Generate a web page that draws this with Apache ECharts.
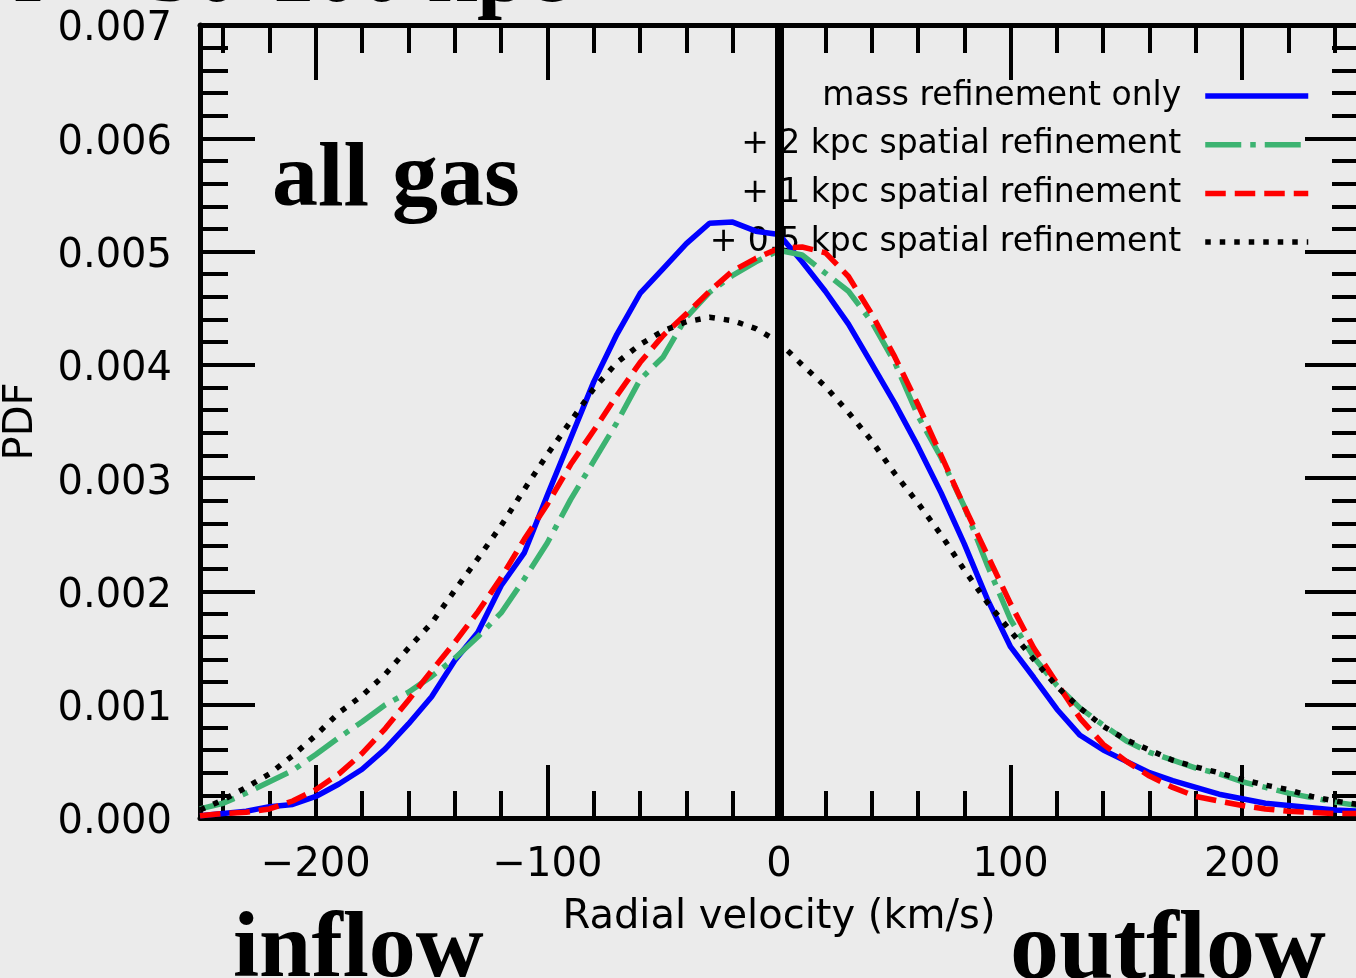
<!DOCTYPE html>
<html>
<head>
	<meta charset="utf-8">
	<title>Radial velocity PDF</title>
	<style>
		html, body {
			margin: 0;
			padding: 0;
			background: #ebebeb;
		}

		#chart {
			width: 1356px;
			height: 978px;
		}
	</style>
</head>
<body>
	<div id="chart"></div>
	<script src="https://cdn.jsdelivr.net/npm/echarts@6/dist/echarts.min.js"></script>
	<script type="text/javascript">
		// radial velocity bins (km/s)
		var velocity = [-250, -240, -230, -220, -210, -200, -190, -180, -170, -160,
			-150, -140, -130, -120, -110, -100, -90, -80, -70, -60,
			-50, -40, -30, -20, -10, 0, 10, 20, 30, 40,
			50, 60, 70, 80, 90, 100, 110, 120, 130, 140,
			150, 160, 170, 180, 190, 200, 210, 220, 230, 240, 250];

		// PDF
		var massOnly = [0.00002, 0.00004, 0.00006, 0.00010, 0.00012, 0.00019, 0.00030, 0.00043, 0.00061, 0.00083,
			0.00107, 0.00139, 0.00164, 0.00205, 0.00234, 0.00285, 0.00335, 0.00385, 0.00427, 0.00463,
			0.00485, 0.00507, 0.00525, 0.00526, 0.00518, 0.00515, 0.00491, 0.00465, 0.00436, 0.00401,
			0.00366, 0.00328, 0.00287, 0.00242, 0.00193, 0.00151, 0.00124, 0.00096, 0.00073, 0.00060,
			0.00050, 0.00040, 0.00033, 0.00027, 0.00021, 0.00017, 0.00013, 0.00011, 0.00009, 0.00007, 0.00006];
		var spatial2kpc = [0.00008, 0.00013, 0.00022, 0.00032, 0.00042, 0.00056, 0.00071, 0.00085, 0.00100, 0.00111,
			0.00125, 0.00141, 0.00160, 0.00181, 0.00211, 0.00243, 0.00281, 0.00315, 0.00349, 0.00387,
			0.00407, 0.00442, 0.00464, 0.00479, 0.00491, 0.00501, 0.00497, 0.00481, 0.00465, 0.00438,
			0.00402, 0.00355, 0.00318, 0.00275, 0.00223, 0.00175, 0.00142, 0.00117, 0.00097, 0.00082,
			0.00068, 0.00058, 0.00051, 0.00044, 0.00039, 0.00032, 0.00027, 0.00022, 0.00018, 0.00014, 0.00011];
		var spatial1kpc = [0.00002, 0.00004, 0.00005, 0.00008, 0.00015, 0.00025, 0.00039, 0.00057, 0.00079, 0.00104,
			0.00130, 0.00155, 0.00182, 0.00212, 0.00246, 0.00277, 0.00312, 0.00342, 0.00373, 0.00402,
			0.00426, 0.00445, 0.00465, 0.00483, 0.00494, 0.00503, 0.00504, 0.00499, 0.00478, 0.00445,
			0.00407, 0.00365, 0.00320, 0.00275, 0.00232, 0.00189, 0.00150, 0.00119, 0.00088, 0.00065,
			0.00050, 0.00037, 0.00027, 0.00019, 0.00015, 0.00011, 0.00008, 0.00006, 0.00005, 0.00004, 0.00004];
		var spatial05kpc = [0.00007, 0.00016, 0.00027, 0.00039, 0.00055, 0.00073, 0.00093, 0.00108, 0.00127, 0.00150,
			0.00172, 0.00201, 0.00229, 0.00258, 0.00290, 0.00321, 0.00350, 0.00379, 0.00402, 0.00418,
			0.00430, 0.00438, 0.00442, 0.00439, 0.00432, 0.00420, 0.00400, 0.00381, 0.00358, 0.00333,
			0.00304, 0.00278, 0.00250, 0.00219, 0.00190, 0.00165, 0.00140, 0.00116, 0.00097, 0.00081,
			0.00069, 0.00060, 0.00051, 0.00045, 0.00040, 0.00034, 0.00029, 0.00025, 0.00019, 0.00015, 0.00012];

		var seriesNames = ['mass refinement only', '+ 2 kpc spatial refinement',
			'+ 1 kpc spatial refinement', '+ 0.5 kpc spatial refinement'];

		// tick positions on the velocity axis
		var xMajorTicks = [-200, -100, 0, 100, 200];
		var xMinorTicks = [-240, -220, -180, -160, -140, -120, -80, -60, -40, -20,
			20, 40, 60, 80, 120, 140, 160, 180, 220, 240];

		var FONT = '"DejaVu Sans", "Noto Sans", sans-serif';
		var SERIF = '"Liberation Serif", "DejaVu Serif", serif';

		function pairs(ys) {
			var out = [];
			for (var i = 0; i < velocity.length; i++) {
				out.push([velocity[i], ys[i]]);
			}
			return out;
		}

		// one x axis per side and tick size (major / minor)
		function xAxisOpt(position, ticks, len, main) {
			return {
				type: 'value',
				position: position,
				min: -250,
				max: 250,
				axisLine: { show: main, onZero: false, lineStyle: { color: '#000', width: 5 } },
				axisTick: {
					show: true,
					inside: true,
					length: len,
					customValues: ticks,
					lineStyle: { color: '#000', width: 4 }
				},
				axisLabel: {
					show: main && position === 'bottom',
					customValues: xMajorTicks,
					margin: 28,
					color: '#000',
					fontFamily: FONT,
					fontSize: 40,
					formatter: function(v) {
						return String(v).replace('-', '\u2212');
					}
				},
				name: (main && position === 'bottom') ? 'Radial velocity (km/s)' : '',
				nameLocation: 'middle',
				nameGap: 80,
				nameTextStyle: { color: '#000', fontFamily: FONT, fontSize: 40 },
				splitLine: { show: false }
			};
		}

		function yAxisOpt(position) {
			var left = position === 'left';
			return {
				type: 'value',
				position: position,
				min: 0,
				max: 0.007,
				interval: 0.001,
				axisLine: { show: true, onZero: false, lineStyle: { color: '#000', width: 5 } },
				axisTick: {
					show: true,
					inside: true,
					length: left ? 55 : 53,
					lineStyle: { color: '#000', width: 4 }
				},
				minorTick: {
					show: true,
					splitNumber: 5,
					length: left ? 28 : 26,
					lineStyle: { color: '#000', width: 4 }
				},
				axisLabel: {
					show: left,
					margin: 28,
					color: '#000',
					fontFamily: FONT,
					fontSize: 40,
					formatter: function(v) {
						return '{v|' + v.toFixed(3) + '}';
					},
					rich: {
						v: { color: '#000', fontFamily: FONT, fontSize: 40, padding: [10, 0, 0, 0] }
					}
				},
				name: left ? 'PDF' : '',
				nameLocation: 'middle',
				nameGap: 158,
				nameTextStyle: { color: '#000', fontFamily: FONT, fontSize: 40 },
				splitLine: { show: false }
			};
		}

		function lineSeries(name, ys, color, dash) {
			return {
				name: name,
				type: 'line',
				data: pairs(ys),
				symbol: 'none',
				showSymbol: false,
				smooth: false,
				z: 3,
				lineStyle: { color: color, width: 5.5, type: dash },
				itemStyle: { color: color }
			};
		}

		var myChart = echarts.init(document.getElementById('chart'));
		var option = {
			backgroundColor: '#ebebeb',
			animation: false,
			grid: {
				left: 200,
				right: -2,
				top: 25,
				bottom: 160,
				containLabel: false,
				outerBoundsMode: 'none'
			},
			xAxis: [
				xAxisOpt('bottom', xMajorTicks, 53, true),
				xAxisOpt('bottom', xMinorTicks, 27, false),
				xAxisOpt('top', xMajorTicks, 55, true),
				xAxisOpt('top', xMinorTicks, 28, false)
			],
			yAxis: [yAxisOpt('left'), yAxisOpt('right')],
			legend: {
				data: seriesNames,
				orient: 'vertical',
				right: 40,
				top: 73,
				align: 'right',
				itemWidth: 103,
				itemHeight: 20,
				itemGap: 12.7,
				selectedMode: false,
				z: 3,
				lineStyle: { width: 5.5 },
				itemStyle: { opacity: 0 },
				textStyle: {
					color: '#000',
					fontFamily: FONT,
					fontSize: 33,
					lineHeight: 36,
					padding: [0, 19, 0, 0]
				}
			},
			series: [
				lineSeries(seriesNames[0], massOnly, '#0000ff', 'solid'),
				lineSeries(seriesNames[1], spatial2kpc, '#3cb371', [36, 9, 5.5, 9]),
				lineSeries(seriesNames[2], spatial1kpc, '#ff0000', [20.5, 9]),
				lineSeries(seriesNames[3], spatial05kpc, '#000000', [5.5, 9]),
				{
					// thick zero-velocity line
					name: 'zero',
					type: 'line',
					data: [],
					z: 10,
					markLine: {
						silent: true,
						symbol: 'none',
						label: { show: false },
						lineStyle: { color: '#000', width: 9, type: 'solid' },
						data: [{ xAxis: 0 }]
					}
				}
			],
			graphic: [{
					type: 'text',
					style: { x: 567, y: -22, text: 'r = 50-100 kpc', align: 'right', verticalAlign: 'middle', font: 'bold 90px ' + SERIF, fill: '#000' }
				},
				{
					type: 'text',
					style: { x: 272, y: 181, text: 'all gas', align: 'left', verticalAlign: 'middle', font: 'bold 92px ' + SERIF, fill: '#000' }
				},
				{
					type: 'text',
					style: { x: 233, y: 952, text: 'inflow', align: 'left', verticalAlign: 'middle', font: 'bold 94px ' + SERIF, fill: '#000' }
				},
				{
					type: 'text',
					style: { x: 1010, y: 953, text: 'outflow', align: 'left', verticalAlign: 'middle', font: 'bold 98px ' + SERIF, fill: '#000' }
				}
			]
		};
		myChart.setOption(option);
	</script>
</body>
</html>
